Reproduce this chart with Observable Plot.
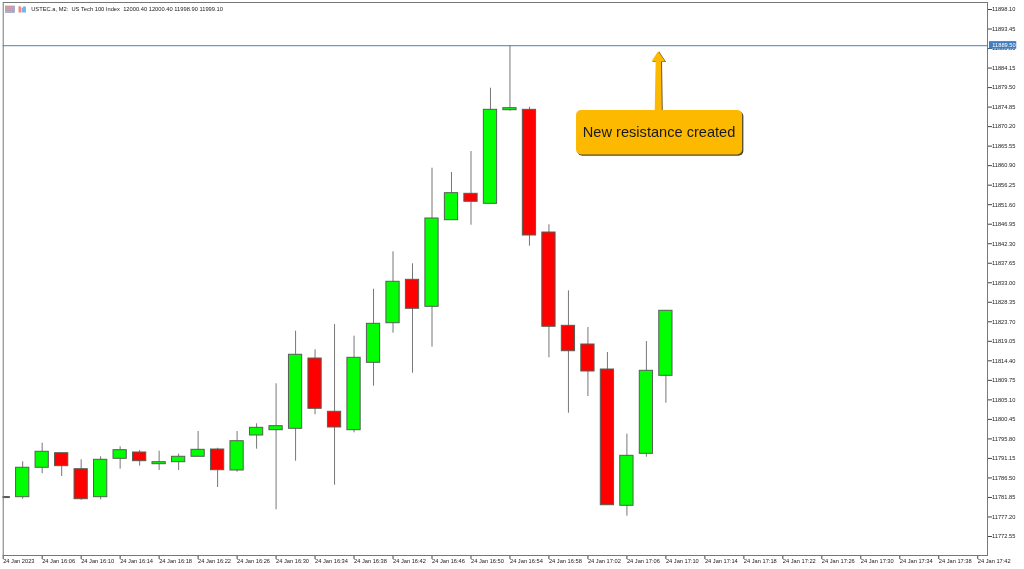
<!DOCTYPE html>
<html>
<head>
<meta charset="utf-8">
<script src="https://cdn.jsdelivr.net/npm/d3@7"></script>
<script src="https://cdn.jsdelivr.net/npm/@observablehq/plot@0.6"></script>
<style>
html,body{margin:0;padding:0;background:#fff;overflow:hidden}
#wrap{position:relative;width:1024px;height:569px;filter:blur(0.3px)}
#wrap svg.plot{display:block;position:absolute;left:0;top:0;background:linear-gradient(to bottom,#fff 566px,#f1f1f1 566px)}
#icons{position:absolute;left:0;top:0}
</style>
</head>
<body>
<div id="wrap"></div>
<script>
const titleText = "USTEC.a,\u00a0M2:\u00a0\u00a0US Tech 100 Index\u00a0\u00a012000.40 12000.40 11998.90 11999.10";
const annotationText = "New resistance created";

const times = ["16:02","16:04","16:06","16:08","16:10","16:12","16:14","16:16","16:18","16:20","16:22","16:24",
  "16:26","16:28","16:30","16:32","16:34","16:36","16:38","16:40","16:42","16:44","16:46","16:48","16:50","16:52",
  "16:54","16:56","16:58","17:00","17:02","17:04","17:06","17:08","17:10"];
const opens = [11781.95,11781.91,11788.92,11792.39,11788.58,11781.91,11791.06,11792.56,11789.77,11790.25,11791.54,11793.27,11788.27,
  11796.61,11797.87,11798.21,11814.95,11802.26,11797.87,11813.93,11823.36,11833.70,11827.27,11847.90,11854.19,11851.81,
  11874.11,11874.20,11844.97,11822.74,11818.29,11812.33,11779.86,11792.25,11810.83];
const closes = [11781.70,11788.92,11792.73,11789.30,11781.43,11790.82,11793.11,11790.49,11790.25,11791.54,11793.20,11788.34,11795.25,
  11798.44,11798.83,11815.84,11802.97,11798.52,11815.12,11823.22,11833.23,11826.80,11848.31,11854.34,11852.29,11874.20,
  11874.59,11844.26,11822.51,11816.69,11811.86,11780.00,11791.77,11812.02,11826.32];
const highs = [11781.95,11790.35,11794.78,11792.39,11790.82,11791.54,11793.92,11793.04,11792.87,11792.16,11797.56,11793.58,11797.56,
  11799.40,11808.93,11821.46,11817.03,11823.05,11820.27,11831.46,11840.37,11837.52,11860.29,11859.27,11864.27,11879.35,
  11889.50,11874.82,11846.81,11831.08,11822.34,11816.38,11796.92,11819.00,11826.40];
const lows = [11781.70,11781.43,11787.49,11786.84,11781.20,11781.29,11788.58,11789.30,11788.27,11788.27,11791.54,11784.22,11787.87,
  11793.35,11778.91,11790.49,11801.54,11784.77,11797.25,11808.36,11820.98,11811.45,11817.65,11847.90,11846.71,11851.81,
  11873.87,11841.71,11815.12,11801.92,11805.90,11780.00,11777.38,11791.44,11804.30];

const priceTicks = [11898.10,11893.45,11888.80,11884.15,11879.50,11874.85,11870.20,11865.55,11860.90,11856.25,11851.60,
  11846.95,11842.30,11837.65,11833.00,11828.35,11823.70,11819.05,11814.40,11809.75,11805.10,11800.45,11795.80,
  11791.15,11786.50,11781.85,11777.20,11772.55];
const timeTicks = ["16:02","16:06","16:10","16:14","16:18","16:22","16:26","16:30","16:34","16:38","16:42","16:46","16:50",
  "16:54","16:58","17:02","17:06","17:10","17:14","17:18","17:22","17:26","17:30","17:34","17:38","17:42"];
const timeLabels = ["24 Jan 2023","24 Jan 16:06","24 Jan 16:10","24 Jan 16:14","24 Jan 16:18","24 Jan 16:22","24 Jan 16:26",
  "24 Jan 16:30","24 Jan 16:34","24 Jan 16:38","24 Jan 16:42","24 Jan 16:46","24 Jan 16:50","24 Jan 16:54","24 Jan 16:58",
  "24 Jan 17:02","24 Jan 17:06","24 Jan 17:10","24 Jan 17:14","24 Jan 17:18","24 Jan 17:22","24 Jan 17:26","24 Jan 17:30",
  "24 Jan 17:34","24 Jan 17:38","24 Jan 17:42"];
const resistance = 11889.50;

const T = s => new Date(`2023-01-24T${s}:00Z`);
const MIN = 60000;
const candles = times.map((t,i) => ({t:T(t),o:opens[i],c:closes[i],h:highs[i],l:lows[i]}));
const bodyHalf = 0.68 * MIN;
const font = "'Liberation Sans', Arial, sans-serif";
const tickLabel = new Map(timeTicks.map((t,i)=>[+T(t),timeLabels[i]]));

// annotation placement, in chart units (minutes after 17:00, price)
const at = m => new Date(+T("17:00") + m*MIN);
const box = [{x1:at(0.83), x2:at(17.87), y1:11874.04, y2:11863.44}];
const arrow = [
  [8.85,11874.0],[8.95,11885.71],[8.52,11885.71],[9.2,11888.17],
  [9.92,11885.71],[9.5,11885.71],[9.58,11874.0]
].map(([m,y])=>({x:at(m),y}));

const chart = Plot.plot({
  width:1024, height:569,
  marginLeft:2.7, marginRight:37, marginTop:2, marginBottom:14,
  style:{fontFamily:font, background:"transparent", overflow:"visible"},
  x:{type:"utc", domain:[T("16:02"),T("17:43")]},
  y:{domain:[11768.02,11899.77]},
  marks:[
    Plot.ruleY([resistance],{stroke:"#6b9ac4",strokeWidth:1.3}),
    Plot.ruleX(candles,{x:"t",y1:"l",y2:"h",stroke:"#777",strokeWidth:1}),
    Plot.rect(candles,{
      x1:d=>new Date(+d.t-bodyHalf), x2:d=>new Date(+d.t+bodyHalf),
      y1:"o", y2:"c",
      fill:d=>d.c>=d.o?"#00ff00":"#ff0000",
      stroke:"#565e56", strokeWidth:1, clip:true
    }),
    // callout
    Plot.line(arrow,{x:"x",y:"y",fill:"#6a5a30",stroke:"none",dx:1,dy:0.4}),
    Plot.line(arrow,{x:"x",y:"y",fill:"#fcb900",stroke:"none"}),
    Plot.rect(box,{x1:"x1",x2:"x2",y1:"y1",y2:"y2",fill:"#4a4a3a",rx:5,dx:1.3,dy:1.3}),
    Plot.rect(box,{x1:"x1",x2:"x2",y1:"y1",y2:"y2",fill:"#fcb900",rx:5}),
    Plot.text([annotationText],{x:()=>at(9.3),y:()=>11868.8,text:d=>d,fontSize:14.6,fill:"#1a1a1a",fontFamily:font}),
    // axes
    Plot.axisY({anchor:"right",ticks:priceTicks,tickFormat:d=>d.toFixed(2),tickSize:4,tickPadding:0.5,fontSize:5.7,label:null,color:"#222",stroke:"#444"}),
    Plot.axisX({anchor:"bottom",ticks:timeTicks.map(T),tickFormat:d=>tickLabel.get(+d),tickSize:4,tickPadding:-1,fontSize:5.7,textAnchor:"start",label:null,color:"#222",stroke:"#444"}),
    // last price tag
    Plot.rect([resistance],{x1:()=>new Date(+T("17:43")+0.2*MIN),x2:()=>new Date(+T("17:43")+3.0*MIN),y1:d=>d+0.95,y2:d=>d-0.85,fill:"#3f7cc0"}),
    Plot.text([resistance],{x:()=>new Date(+T("17:43")+0.5*MIN),y:d=>d,text:d=>d.toFixed(2),textAnchor:"start",fontSize:5.7,fill:"#fff",fontFamily:font}),
    Plot.frame({stroke:"#777",strokeWidth:1}),
    // header
    Plot.text([titleText],{frameAnchor:"top-left",dx:28,dy:7,text:d=>d,fontSize:5.75,lineAnchor:"middle",fill:"#222",fontFamily:font})
  ]
});
document.getElementById("wrap").appendChild(chart);
chart.classList.add("plot");

// small toolbar icons beside the header
document.getElementById("wrap").insertAdjacentHTML("beforeend",`<svg id="icons" width="32" height="16" xmlns="http://www.w3.org/2000/svg">
<rect x="5.5" y="6" width="9" height="6.5" fill="#f59a8e" stroke="#6fa0d8" stroke-width="0.6"/>
<path d="M5.5 8.2H14.5M5.5 10.4H14.5" stroke="#6fa0d8" stroke-width="0.5"/>
<path d="M18.5 12.5V6.5L20 5.8L21.5 8V12.5Z" fill="#f08a7e"/>
<path d="M22 12.5V8L24 6L26 7V12.5Z" fill="#7db4e8"/>
</svg>`);
</script>
</body>
</html>
